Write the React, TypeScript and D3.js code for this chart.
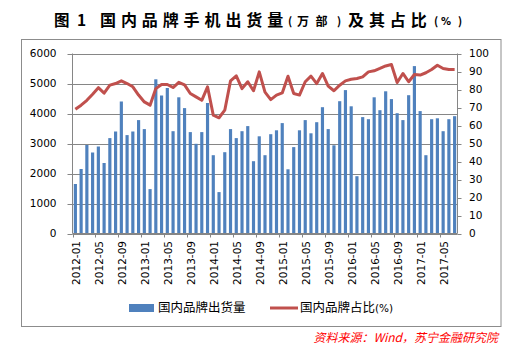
import React from 'react';
import * as d3 from 'd3';

// monthly categories 2012-01 .. 2017-07
const months = d3.timeMonth
  .range(new Date(2012, 0, 1), new Date(2017, 7, 1))
  .map(d3.timeFormat('%Y-%m'));

const xTickLabels = [
  '2012-01', '2012-05', '2012-09', '2013-01', '2013-05', '2013-09', '2014-01', '2014-05',
  '2014-09', '2015-01', '2015-05', '2015-09', '2016-01', '2016-05', '2016-09', '2017-01', '2017-05',
];

// 国内品牌出货量 (万部)
const shipments = [
  1650, 2150, 2950, 2700, 2900, 2350, 3180, 3400, 4400, 3280, 3400, 3780, 3480, 1480, 5140, 4600, 4850,
  3410, 4540, 4180, 3380, 2990, 3380, 4350, 2610, 1380, 2710, 3480, 3180, 3410, 3580, 2410, 3240, 2610,
  3310, 3440, 3680, 2140, 2880, 3440, 3780, 3340, 3710, 4210, 3480, 2940, 4410, 4780, 4240, 1910, 3880,
  3810, 4540, 4110, 4740, 4480, 4010, 3780, 4610, 5580, 4080, 2610, 3810, 3840, 3410, 3810, 3910,
];

// 国内品牌占比 (%)
const share = [
  69, 71.3, 74, 77.4, 81, 78, 82.4, 83.3, 84.8, 83.3, 81.5, 76.9, 73.1, 71.3, 80.5, 82.8, 82.8,
  81.1, 84, 82.6, 77.8, 75.9, 74, 81.5, 65.7, 64.3, 68.5, 84.8, 87.6, 80.5, 84.3, 79.3, 89.8, 78.5,
  74.4, 76.9, 78.1, 87.4, 77.8, 76.9, 84.3, 87.4, 83.3, 88.9, 81.9, 79.3, 82.4, 84.8, 85.7, 86.1, 87,
  89.8, 90.4, 91.7, 93.1, 93.9, 83.9, 88.9, 84.3, 88.3, 88, 89.3, 91.1, 93.5, 91.7, 91.1, 91.1,
];

const leftTicks = [0, 1000, 2000, 3000, 4000, 5000, 6000];
const rightTicks = [0, 10, 20, 30, 40, 50, 60, 70, 80, 90, 100];

const W = 516;
const H = 353;
const plot = { left: 72.5, right: 457.5, top: 53.5, bottom: 233.5 };
const gridColor = '#868686';
const axisFont = '"DejaVu Sans", Verdana, sans-serif';
const cjkFont = '"Noto Sans CJK SC", sans-serif';

export default function App() {
  const x = d3.scaleBand<string>()
    .domain(months)
    .range([plot.left, plot.right])
    .paddingInner(0.45)
    .paddingOuter(0.225);
  const step = x.step();
  const yL = d3.scaleLinear().domain([0, 6000]).range([plot.bottom, plot.top]);
  const yR = d3.scaleLinear().domain([0, 100]).range([plot.bottom, plot.top]);

  const line = d3.line<number>()
    .x((_, i) => x(months[i])! + x.bandwidth() / 2)
    .y(d => yR(d));

  const center = (m: string) => x(m)! + x.bandwidth() / 2;
  // boundary ticks every 4 months
  const boundaryTicks = months.map((_, i) => i).filter(i => i % 4 === 0).map(i => plot.left + i * step);

  return (
    <svg width={W} height={H} style={{ position: 'absolute', left: 0, top: 0, background: '#fff' }}>
      <rect x={0} y={0} width={W} height={H} fill="#fff" />

      {/* title */}
      <g fontFamily={cjkFont} fontWeight="bold" fill="#000">
        <text x={54} y={26} fontSize={15.5}>图</text>
        <text x={77} y={26} fontSize={15.5}>1</text>
        <text x={100} y={26} fontSize={16}>
          {'国内品牌手机出货量'.split('').map((c, i) => <tspan key={i} x={100 + i * 20.9}>{c}</tspan>)}
        </text>
        <text x={288} y={25} fontSize={11}>(</text>
        <text x={297} y={26} fontSize={12}>
          <tspan x={297}>万</tspan><tspan x={315.5}>部</tspan>
        </text>
        <text x={337} y={25} fontSize={11}>)</text>
        <text x={348} y={26} fontSize={16}>
          {'及其占比'.split('').map((c, i) => <tspan key={i} x={348 + i * 20.9}>{c}</tspan>)}
        </text>
        <text x={434} y={25} fontSize={11}>(</text>
        <text x={441} y={25} fontSize={10} fontFamily={axisFont}>%</text>
        <text x={458} y={25} fontSize={11}>)</text>
      </g>

      {/* frame */}
      <rect x={21.5} y={39.5} width={479.5} height={287} fill="none" stroke="#8c8c8c" strokeWidth={1} />

      {/* gridlines */}
      {leftTicks.map(t => (
        <line key={t} x1={plot.left} x2={plot.right} y1={Math.round(yL(t)) + 0.5} y2={Math.round(yL(t)) + 0.5}
          stroke={gridColor} strokeWidth={1} />
      ))}

      {/* bars */}
      {shipments.map((v, i) => (
        <rect key={months[i]} x={x(months[i])} y={yL(v)} width={x.bandwidth()} height={plot.bottom - yL(v)}
          fill="#4F81BD" />
      ))}

      {/* share line */}
      <path d={line(share) ?? ''} fill="none" stroke="#C0504D" strokeWidth={3} strokeLinejoin="round" />

      {/* left axis */}
      <line x1={plot.left} x2={plot.left} y1={plot.top} y2={plot.bottom} stroke={gridColor} />
      {leftTicks.map(t => (
        <g key={t}>
          <line x1={plot.left - 5} x2={plot.left} y1={Math.round(yL(t)) + 0.5} y2={Math.round(yL(t)) + 0.5} stroke={gridColor} />
          <text x={56.5} y={yL(t)} dy="0.35em" textAnchor="end" fontFamily={axisFont} fontSize={10.5} fill="#000">{t}</text>
        </g>
      ))}

      {/* right axis */}
      <line x1={plot.right} x2={plot.right} y1={plot.top} y2={plot.bottom} stroke={gridColor} />
      {rightTicks.map(t => (
        <g key={t}>
          <line x1={plot.right} x2={plot.right + 4} y1={Math.round(yR(t)) + 0.5} y2={Math.round(yR(t)) + 0.5} stroke={gridColor} />
          <text x={469} y={yR(t)} dy="0.35em" textAnchor="start" fontFamily={axisFont} fontSize={10.5} fill="#000">{t}</text>
        </g>
      ))}

      {/* x axis */}
      <line x1={plot.left} x2={plot.right} y1={plot.bottom} y2={plot.bottom} stroke={gridColor} />
      {boundaryTicks.map((bx, i) => (
        <line key={i} x1={Math.round(bx) + 0.5} x2={Math.round(bx) + 0.5} y1={plot.bottom} y2={plot.bottom + 4} stroke={gridColor} />
      ))}
      {xTickLabels.map(l => (
        <text key={l} transform={`translate(${center(l) + 1},${241}) rotate(-90)`} dy="0.35em" textAnchor="end"
          fontFamily={axisFont} fontSize={10.5} fill="#000">{l}</text>
      ))}

      {/* legend */}
      <rect x={129} y={304} width={25} height={8} fill="#4F81BD" />
      <text x={158} y={308} dy="0.35em" fontFamily={cjkFont} fontSize={12.5} fill="#000">国内品牌出货量</text>
      <line x1={270} x2={298} y1={308} y2={308} stroke="#C0504D" strokeWidth={3} />
      <text x={300} y={308} dy="0.35em" fontFamily={cjkFont} fontSize={12.5} fill="#000">国内品牌占比<tspan fontSize={10.5} fontFamily={axisFont}>(%)</tspan></text>

      {/* source */}
      <text x={498} y={338} dy="0.35em" textAnchor="end" fontFamily={cjkFont} fontStyle="italic" fontSize={12} fill="#ff0000">资料来源：Wind，苏宁金融研究院</text>
    </svg>
  );
}
